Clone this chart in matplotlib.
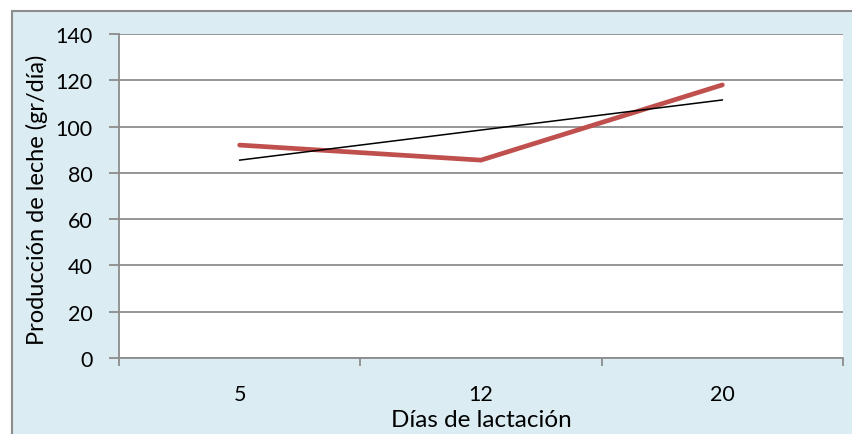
import numpy as np
import matplotlib.pyplot as plt
from matplotlib.patches import Rectangle

dias = ['5', '12', '20']
produccion = [92, 85.5, 118]

plt.rcParams['font.family'] = ['Lato', 'DejaVu Sans']

fig = plt.figure(figsize=(8.53, 4.35), dpi=100)
fig.patch.set_facecolor('white')
# fondo azul del area del grafico
fig.patches.append(Rectangle((12 / 853, -0.05), 1.0, (435 - 12) / 435 + 0.05,
                             transform=fig.transFigure, facecolor='#dbecf2',
                             edgecolor='#8c8c8c', linewidth=1.5, zorder=-5))

ax = fig.add_axes([119 / 853, 76 / 435, 724 / 853, 324 / 435])
ax.set_facecolor('white')

x = np.arange(len(dias)) + 0.5
ax.plot(x, produccion, color='#c0504d', linewidth=3.4, solid_capstyle='round', zorder=3)

# linea de tendencia lineal
coef = np.polyfit(x, produccion, 1)
ax.plot(x, np.polyval(coef, x), color='black', linewidth=1.1, zorder=4)

ax.set_xlim(0, len(dias))
ax.set_ylim(0, 140)
ax.set_yticks(range(0, 141, 20))
ax.set_xticks(range(len(dias) + 1))
ax.set_xticklabels([])
ax.set_xticks(x, minor=True)
ax.set_xticklabels(dias, minor=True)
ax.tick_params(axis='x', which='minor', length=0, pad=19, labelsize=15.5)
ax.tick_params(axis='x', which='major', length=6, width=1.3, color='#8c8c8c')
ax.tick_params(axis='y', length=7, width=1.3, color='#8c8c8c', labelsize=15.5, pad=12)

ax.grid(axis='y', color='#8c8c8c', linewidth=1.3)
ax.set_axisbelow(True)
for s in ['top', 'right']:
    ax.spines[s].set_visible(False)
for s in ['left', 'bottom']:
    ax.spines[s].set_color('#8c8c8c')
    ax.spines[s].set_linewidth(1.3)

ax.set_xlabel('Días de lactación', fontsize=17.5, va='center')
ax.xaxis.set_label_coords(0.5, -0.191)
ax.set_ylabel('Producción de leche (gr/día)', fontsize=17, va='center')
ax.yaxis.set_label_coords(-0.113, 0.49)

fig.savefig('out.png', dpi=100)
